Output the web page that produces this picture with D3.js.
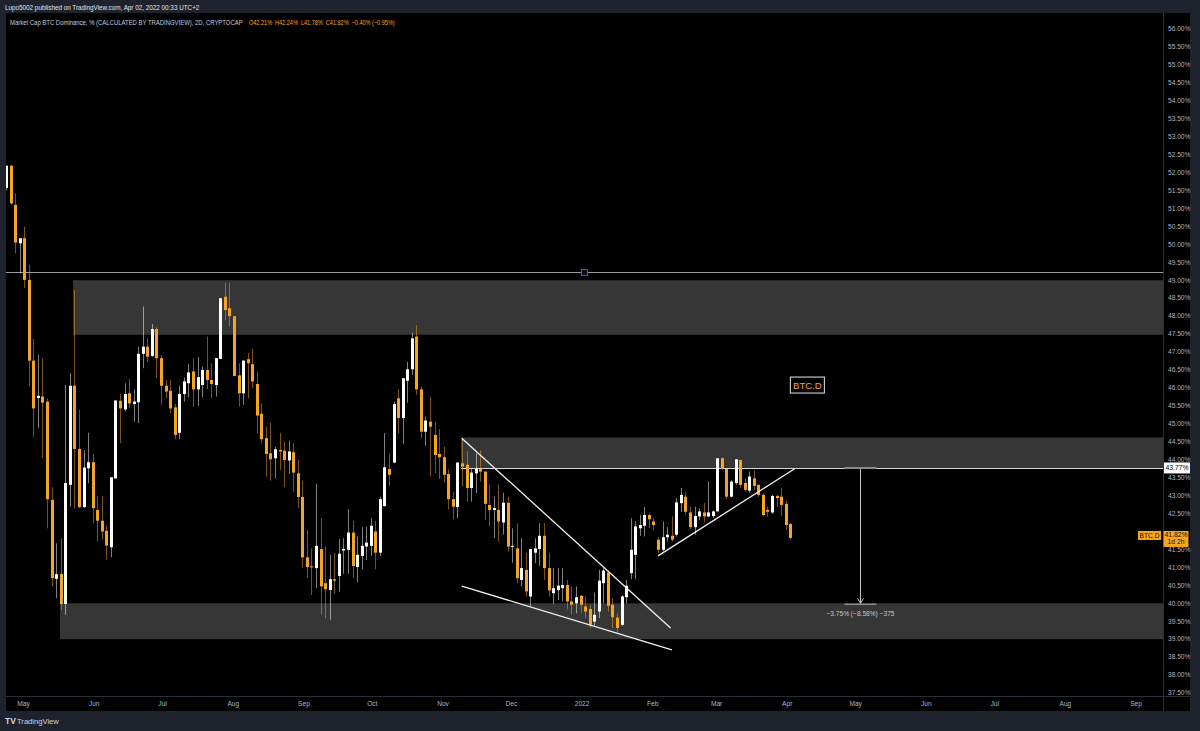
<!DOCTYPE html>
<html>
<head>
<meta charset="utf-8">
<script src="https://cdn.jsdelivr.net/npm/d3@7"></script>
<style>
html, body { margin: 0; padding: 0; background: #1e222d; }
svg { display: block; }
</style>
</head>
<body>
<svg id="chart"></svg>
<script>
const W = 1200
const H = 731

// 2D bars, first bar open date
const firstBar = '2021-04-22'

const opens = [51.57, 52.19, 51.10, 50.03, 50.17, 49.01, 46.76, 45.72, 45.76, 45.62,
    42.88, 40.68, 40.82, 39.98, 43.30, 46.06, 44.30, 42.68, 43.76, 43.93,
    42.60, 42.30, 42.02, 41.56, 43.48, 45.64, 45.40, 45.85, 45.55, 45.60,
    46.95, 47.15, 46.89, 47.64, 46.83, 46.06, 45.92, 45.46, 44.75, 45.83,
    46.13, 46.46, 45.96, 46.08, 46.50, 46.22, 46.08, 46.81, 48.54, 48.22,
    48.00, 46.35, 45.85, 46.80, 46.66, 46.11, 45.28, 44.60, 44.18, 44.04,
    44.27, 44.25, 43.98, 44.21, 43.62, 42.96, 41.28, 41.03, 40.98, 41.51,
    40.56, 40.37, 40.67, 40.76, 41.47, 41.49, 41.97, 41.01, 41.32, 41.58,
    41.60, 42.00, 41.41, 42.71, 43.74, 43.92, 45.71, 45.16, 46.20, 46.52,
    47.43, 45.96, 44.78, 45.06, 44.69, 44.16, 44.07, 43.60, 42.90, 42.68,
    43.90, 43.86, 43.21, 43.62, 43.74, 43.67, 42.74, 42.60, 42.60, 42.25,
    42.80, 41.58, 41.53, 40.65, 40.93, 40.19, 41.41, 41.51, 41.88, 40.98,
    40.28, 40.37, 40.42, 40.51, 40.05, 40.00, 40.21, 39.91, 39.84, 39.49,
    39.77, 40.56, 40.86, 39.96, 39.60, 39.40, 40.17, 40.84, 41.35, 42.09,
    42.16, 42.46, 42.28, 41.77, 41.49, 41.84, 41.88, 41.91, 42.79, 42.97,
    42.53, 42.12, 42.42, 42.53, 42.42, 42.43, 42.56, 44.04, 43.74, 42.97,
    43.35, 43.99, 43.35, 43.14, 43.48, 43.30, 43.02, 42.60, 42.53, 42.99,
    42.97, 42.77, 42.21]

const highs = [52.20, 52.22, 51.42, 50.17, 50.49, 49.43, 47.36, 46.92, 46.83, 45.71,
    43.23, 41.67, 41.81, 46.08, 46.41, 48.73, 45.39, 44.27, 44.75, 44.16,
    42.99, 42.99, 42.16, 43.51, 45.65, 45.83, 46.13, 46.24, 45.96, 47.15,
    48.27, 47.38, 47.78, 47.69, 46.92, 46.22, 46.22, 45.55, 46.06, 46.29,
    46.67, 46.83, 46.86, 46.59, 47.43, 46.69, 46.83, 48.50, 48.93, 48.92,
    48.00, 46.69, 46.78, 46.97, 47.09, 46.45, 45.57, 44.92, 45.03, 44.36,
    44.75, 44.50, 44.53, 44.46, 44.00, 43.42, 42.04, 41.53, 43.33, 42.37,
    41.58, 41.35, 41.40, 41.79, 41.81, 42.62, 42.30, 41.86, 42.12, 42.14,
    42.37, 42.30, 42.97, 44.74, 44.18, 45.62, 45.96, 46.27, 46.73, 47.54,
    47.75, 46.04, 45.20, 45.74, 45.06, 44.85, 44.36, 43.73, 43.11, 43.92,
    44.60, 44.23, 43.76, 44.18, 44.27, 43.67, 43.30, 42.97, 43.30, 43.08,
    42.97, 42.09, 42.23, 41.81, 41.40, 41.51, 41.81, 42.23, 42.23, 41.40,
    40.98, 40.98, 40.98, 40.65, 40.47, 40.47, 40.23, 40.19, 39.96, 40.30,
    40.93, 40.98, 40.91, 40.14, 39.72, 40.23, 40.65, 42.37, 42.28, 42.46,
    42.68, 42.53, 42.37, 41.84, 42.28, 42.12, 42.42, 42.93, 43.21, 43.11,
    42.69, 42.69, 42.65, 42.79, 43.39, 42.58, 44.04, 44.07, 43.74, 43.44,
    44.01, 44.01, 43.48, 43.67, 43.70, 43.30, 43.05, 42.69, 43.02, 43.02,
    43.21, 42.86, 42.24]

const lows = [51.50, 51.10, 49.75, 49.19, 48.78, 46.04, 44.64, 44.88, 44.04, 42.09,
    40.47, 40.14, 39.82, 39.68, 42.69, 42.65, 42.65, 42.65, 43.35, 42.23,
    41.72, 41.77, 41.21, 41.28, 43.48, 44.46, 45.34, 45.43, 45.06, 45.02,
    46.55, 46.73, 46.87, 46.27, 45.53, 45.71, 45.29, 44.57, 44.57, 45.62,
    45.74, 45.48, 45.50, 45.74, 45.96, 45.71, 45.76, 46.81, 47.89, 47.71,
    46.33, 45.48, 45.53, 45.71, 45.99, 44.74, 44.46, 43.53, 43.42, 43.48,
    43.72, 43.23, 43.60, 43.11, 42.65, 40.99, 40.70, 40.23, 40.42, 39.68,
    39.59, 39.54, 40.26, 40.32, 40.82, 40.82, 40.70, 40.58, 40.95, 41.21,
    41.32, 40.95, 41.32, 42.69, 43.27, 43.90, 44.72, 44.44, 45.59, 46.36,
    45.81, 44.60, 44.38, 43.53, 43.62, 43.46, 43.36, 42.62, 42.34, 42.37,
    43.25, 42.83, 42.83, 43.07, 43.39, 42.32, 42.14, 41.81, 41.72, 41.91,
    41.44, 41.13, 40.56, 40.47, 40.19, 39.91, 41.12, 41.04, 40.65, 40.19,
    39.98, 40.09, 40.05, 39.82, 39.68, 39.72, 39.72, 39.59, 39.31, 39.35,
    39.59, 40.00, 39.77, 39.31, 39.17, 39.37, 40.00, 40.67, 40.67, 41.88,
    41.86, 42.09, 42.03, 41.40, 41.44, 41.72, 41.72, 41.86, 42.55, 42.46,
    42.06, 41.91, 42.32, 42.25, 42.40, 42.37, 42.56, 43.72, 42.90, 42.95,
    43.30, 43.21, 43.11, 43.08, 43.16, 42.97, 42.42, 42.42, 42.49, 42.69,
    42.43, 42.04, 41.78]

const closes = [52.19, 51.14, 50.05, 50.17, 49.01, 46.76, 45.43, 45.78, 45.59, 42.90,
    40.70, 40.81, 39.98, 43.35, 46.06, 44.30, 42.68, 43.78, 43.93, 42.65,
    42.30, 42.00, 41.61, 43.51, 45.65, 45.43, 45.83, 45.57, 45.62, 46.95,
    47.15, 46.87, 47.64, 46.83, 46.06, 45.90, 45.43, 44.69, 45.83, 46.18,
    46.43, 45.96, 46.30, 46.50, 46.22, 46.11, 46.83, 48.50, 48.17, 48.00,
    46.33, 45.85, 46.76, 46.69, 46.18, 45.23, 44.57, 44.16, 44.01, 44.29,
    44.23, 43.99, 44.23, 43.64, 42.96, 41.28, 41.01, 41.00, 41.60, 40.47,
    40.39, 40.67, 40.63, 41.38, 41.51, 41.97, 41.04, 41.35, 41.60, 41.69,
    42.16, 41.41, 42.90, 43.79, 43.58, 45.55, 45.16, 46.27, 46.52, 47.38,
    45.96, 44.78, 45.09, 44.92, 44.13, 44.07, 43.58, 42.90, 42.69, 43.92,
    43.81, 43.21, 43.64, 43.74, 43.67, 42.77, 42.60, 42.65, 42.28, 42.80,
    41.58, 41.60, 40.70, 40.98, 40.33, 41.51, 41.53, 41.88, 40.98, 40.36,
    40.42, 40.49, 40.51, 40.05, 39.96, 40.17, 39.96, 39.77, 39.40, 39.68,
    40.63, 40.91, 39.93, 39.61, 39.31, 40.19, 40.49, 41.49, 42.14, 42.18,
    42.46, 42.34, 42.18, 41.49, 41.84, 41.91, 41.77, 42.81, 43.02, 42.55,
    42.12, 42.43, 42.56, 42.42, 42.53, 42.56, 44.04, 43.74, 42.97, 43.39,
    44.01, 43.30, 43.16, 43.53, 43.27, 43.02, 42.46, 42.55, 42.99, 42.93,
    42.74, 42.18, 41.82]

const priceTicks = [56.00, 55.50, 55.00, 54.50, 54.00, 53.50, 53.00, 52.50, 52.00, 51.50,
    51.00, 50.50, 50.00, 49.50, 49.00, 48.50, 48.00, 47.50, 47.00, 46.50,
    46.00, 45.50, 45.00, 44.50, 44.00, 43.50, 43.00, 42.50, 42.00, 41.50,
    41.00, 40.50, 40.00, 39.50, 39.00, 38.50, 38.00, 37.50]

const monthTicks = [
    ['2021-05-01', 'May'], ['2021-06-01', 'Jun'], ['2021-07-01', 'Jul'], ['2021-08-01', 'Aug'],
    ['2021-09-01', 'Sep'], ['2021-10-01', 'Oct'], ['2021-11-01', 'Nov'], ['2021-12-01', 'Dec'],
    ['2022-01-01', '2022'], ['2022-02-01', 'Feb'], ['2022-03-01', 'Mar'], ['2022-04-01', 'Apr'],
    ['2022-05-01', 'May'], ['2022-06-01', 'Jun'], ['2022-07-01', 'Jul'], ['2022-08-01', 'Aug'],
    ['2022-09-01', 'Sep'],
]

// drawings: [start date, top value, bottom value]
const zones = [
    ['2021-05-21T10:00', 49.00, 47.48],
    ['2021-11-07T14:00', 44.62, 43.77],
    ['2021-05-15T16:00', 40.00, 39.00],
]
// [date1, value1, date2, value2]
const trendLines = [
    ['2021-11-07T22:00', 44.60, '2022-02-07T12:00', 39.31],
    ['2021-11-07T22:00', 40.48, '2022-02-08T02:00', 38.70],
    ['2022-02-02T00:00', 41.32, '2022-04-02T18:00', 43.74],
]
const resistanceLine = ['2021-11-07T14:00', 43.77]
const horizLine = 49.23
const lastPrice = 41.82
const measure = { date: '2022-05-01T12:00', from: 43.77, to: 40.00, text: '\u22123.75% (\u22128.58%) \u2212375' }
const symbolNote = { date: '2022-04-08T12:00', value: 46.08, text: 'BTC.D' }

const COLORS = {
    up: '#ffffff',
    down: '#f7a51c',
    zone: '#363636',
    axisText: '#b2b5be',
    frame: '#1e222d',
    border: '#2a2e39',
}

const PLOT = { left: 6, right: 1163, top: 13, bottom: 696 }

const svg = d3.select('#chart')
    .attr('width', W)
    .attr('height', H)
    .style('font-family', '"Liberation Sans", Arial, sans-serif')

svg.append('rect').attr('width', W).attr('height', H).attr('fill', COLORS.frame)
svg.append('rect')
    .attr('x', PLOT.left).attr('y', PLOT.top)
    .attr('width', 1190 - PLOT.left).attr('height', 711 - PLOT.top)
    .attr('fill', '#000')

const parse = d3.utcParse('%Y-%m-%d')
const parseT = d3.utcParse('%Y-%m-%dT%H:%M')
const toDate = s => (s.length > 10 ? parseT(s) : parse(s))

const start = parse(firstBar)
const x = d3.scaleUtc()
    .domain([start, parseT('2022-09-11T12:00')])
    .range([PLOT.left, PLOT.right])
const y = d3.scaleLinear()
    .domain([37.5, 56])
    .range([693, 29])

svg.append('clipPath').attr('id', 'plot-clip')
    .append('rect')
    .attr('x', PLOT.left).attr('y', PLOT.top)
    .attr('width', PLOT.right - PLOT.left).attr('height', PLOT.bottom - PLOT.top)

const plot = svg.append('g').attr('clip-path', 'url(#plot-clip)')

// Zones
plot.selectAll('rect.zone')
    .data(zones)
    .join('rect')
    .attr('class', 'zone')
    .attr('x', d => x(toDate(d[0])))
    .attr('y', d => y(d[1]))
    .attr('width', d => PLOT.right - x(toDate(d[0])))
    .attr('height', d => y(d[2]) - y(d[1]))
    .attr('fill', COLORS.zone)

// Horizontal line across the chart
plot.append('line')
    .attr('x1', PLOT.left).attr('x2', PLOT.right)
    .attr('y1', Math.round(y(horizLine)) + 0.5).attr('y2', Math.round(y(horizLine)) + 0.5)
    .attr('stroke', '#9c9c9c').attr('stroke-width', 1)

// Resistance line
plot.append('line')
    .attr('x1', x(toDate(resistanceLine[0]))).attr('x2', PLOT.right)
    .attr('y1', Math.round(y(resistanceLine[1])) + 0.5).attr('y2', Math.round(y(resistanceLine[1])) + 0.5)
    .attr('stroke', '#d8d8d8').attr('stroke-width', 1)

// Candles
const bars = opens.map((o, i) => ({
    date: d3.utcDay.offset(start, i * 2),
    o, h: highs[i], l: lows[i], c: closes[i],
}))

const candle = plot.append('g').selectAll('g')
    .data(bars)
    .join('g')
    .attr('transform', d => `translate(${Math.round(x(d.date))},0)`)

candle.append('line')
    .attr('x1', 0.5).attr('x2', 0.5)
    .attr('y1', d => y(d.h)).attr('y2', d => y(d.l))
    .attr('stroke', d => (d.c >= d.o ? COLORS.up : COLORS.down))
    .attr('stroke-opacity', 0.5)

candle.append('rect')
    .attr('x', -1)
    .attr('width', 3)
    .attr('y', d => y(Math.max(d.o, d.c)))
    .attr('height', d => Math.max(1, Math.abs(y(d.o) - y(d.c))))
    .attr('fill', d => (d.c >= d.o ? COLORS.up : COLORS.down))

// Trend lines
plot.selectAll('line.trend')
    .data(trendLines)
    .join('line')
    .attr('class', 'trend')
    .attr('x1', d => x(toDate(d[0]))).attr('y1', d => y(d[1]))
    .attr('x2', d => x(toDate(d[2]))).attr('y2', d => y(d[3]))
    .attr('stroke', '#f0f0f0').attr('stroke-width', 1.3)

// Handle on horizontal line
const midX = (PLOT.left + PLOT.right) / 2
plot.append('rect')
    .attr('x', midX - 3).attr('y', y(horizLine) - 2.5)
    .attr('width', 6).attr('height', 6)
    .attr('fill', '#0b0f24').attr('stroke', '#3b55c9').attr('stroke-width', 1)

// Measurement tool
const mx = Math.round(x(toDate(measure.date))) + 0.5
const mTop = y(measure.from)
const mBot = y(measure.to)
const meas = plot.append('g').attr('stroke', '#c4c4c4')
meas.append('line').attr('x1', mx).attr('x2', mx).attr('y1', mTop).attr('y2', mBot)
meas.append('line').attr('x1', mx - 16).attr('x2', mx + 16).attr('y1', mTop).attr('y2', mTop)
    .attr('stroke', '#8a8a8a').attr('stroke-width', 2)
meas.append('line').attr('x1', mx - 16).attr('x2', mx + 16).attr('y1', mBot + 1).attr('y2', mBot + 1)
    .attr('stroke', '#8a8a8a').attr('stroke-width', 1.5)
meas.append('path')
    .attr('d', `M${mx - 3},${mBot - 5}L${mx},${mBot}L${mx + 3},${mBot - 5}`)
    .attr('fill', 'none')
plot.append('text')
    .attr('x', mx).attr('y', mBot + 13)
    .attr('text-anchor', 'middle')
    .attr('font-size', 6.6)
    .attr('fill', '#c8c8c8')
    .text(measure.text)

// Symbol note
const nx = x(toDate(symbolNote.date))
const ny = y(symbolNote.value)
plot.append('rect')
    .attr('x', nx - 17).attr('y', ny - 8)
    .attr('width', 34).attr('height', 16)
    .attr('fill', '#000').attr('stroke', '#e8e8e8').attr('stroke-width', 1)
plot.append('text')
    .attr('x', nx).attr('y', ny + 3.5)
    .attr('text-anchor', 'middle')
    .attr('font-size', 9.5)
    .attr('fill', COLORS.down)
    .text(symbolNote.text)

// Borders of the scales
svg.append('line')
    .attr('x1', PLOT.right + 0.5).attr('x2', PLOT.right + 0.5)
    .attr('y1', PLOT.top).attr('y2', 711)
    .attr('stroke', COLORS.border)
svg.append('line')
    .attr('x1', PLOT.left).attr('x2', 1190)
    .attr('y1', PLOT.bottom + 0.5).attr('y2', PLOT.bottom + 0.5)
    .attr('stroke', COLORS.border)

// Price axis
const lastY = y(lastPrice)
svg.append('g').selectAll('text')
    .data(priceTicks.filter(v => Math.abs(y(v) - (lastY + 1)) > 9))
    .join('text')
    .attr('x', 1168)
    .attr('y', d => y(d))
    .attr('dy', '0.35em')
    .attr('font-size', 6.6)
    .attr('fill', COLORS.axisText)
    .text(d => d.toFixed(2) + '%')

// Resistance value tag
const ry = y(resistanceLine[1])
svg.append('rect')
    .attr('x', PLOT.right + 1).attr('y', ry - 5.5)
    .attr('width', 26).attr('height', 11)
    .attr('fill', '#fff')
svg.append('text')
    .attr('x', PLOT.right + 14).attr('y', ry).attr('dy', '0.35em')
    .attr('text-anchor', 'middle')
    .attr('font-size', 6.8)
    .attr('fill', '#000')
    .text(resistanceLine[1].toFixed(2) + '%')

// Last price tag
svg.append('rect')
    .attr('x', PLOT.right + 0.5).attr('y', lastY - 7)
    .attr('width', 25).attr('height', 16)
    .attr('fill', COLORS.down)
svg.append('text')
    .attr('x', PLOT.right + 13).attr('y', lastY - 1)
    .attr('text-anchor', 'middle')
    .attr('font-size', 6.8)
    .attr('fill', '#111')
    .text(lastPrice.toFixed(2) + '%')
svg.append('text')
    .attr('x', PLOT.right + 13).attr('y', lastY + 6.5)
    .attr('text-anchor', 'middle')
    .attr('font-size', 6.8)
    .attr('fill', '#111')
    .text('1d 2h')
svg.append('rect')
    .attr('x', PLOT.right - 25).attr('y', lastY - 7)
    .attr('width', 23).attr('height', 9)
    .attr('fill', COLORS.down)
svg.append('text')
    .attr('x', PLOT.right - 13.5).attr('y', lastY - 2.5)
    .attr('dy', '0.35em')
    .attr('text-anchor', 'middle')
    .attr('font-size', 6.6)
    .attr('fill', '#111')
    .text('BTC.D')

// Time axis
svg.append('g').selectAll('text')
    .data(monthTicks)
    .join('text')
    .attr('x', d => x(toDate(d[0])) - 3)
    .attr('y', 704)
    .attr('dy', '0.35em')
    .attr('text-anchor', 'middle')
    .attr('font-size', 6.6)
    .attr('fill', COLORS.axisText)
    .text(d => d[1])

// Header texts are squeezed horizontally to the width they take in the picture
function squeezedText(left, baseline, width, size, fill, str) {
    const g = svg.append('g')
    const t = g.append('text')
        .attr('font-size', size)
        .attr('fill', fill)
        .text(str)
    const natural = t.node().getComputedTextLength()
    const k = Math.min(1, width / natural)
    g.attr('transform', `translate(${left},${baseline}) scale(${k},1)`)
    return t
}

squeezedText(5, 9.5, 195, 7, '#e0e3eb',
    'Lupo5002 published on TradingView.com, Apr 02, 2022 00:33 UTC+2')
squeezedText(10, 25, 233, 7, '#c8cbd3',
    'Market Cap BTC Dominance, % (CALCULATED BY TRADINGVIEW), 2D, CRYPTOCAP')

const last = bars[bars.length - 1]
const fmt = v => (v < 0 ? '\u2212' : '') + Math.abs(v).toFixed(2)
squeezedText(249, 25, 146, 7, COLORS.down,
    `O${last.o.toFixed(2)}%\u00a0\u00a0H${last.h.toFixed(2)}%\u00a0\u00a0L${last.l.toFixed(2)}%\u00a0\u00a0C${last.c.toFixed(2)}%\u00a0\u00a0${fmt(-0.40)}% (${fmt(-0.95)}%)`)

// Footer logo
svg.append('text')
    .attr('x', 5).attr('y', 724)
    .attr('font-size', 8.5)
    .attr('font-weight', 'bold')
    .attr('fill', '#d1d4dc')
    .text('TV')
svg.append('text')
    .attr('x', 17).attr('y', 724)
    .attr('font-size', 7.6)
    .attr('fill', '#d1d4dc')
    .text('TradingView')
</script>
</body>
</html>
